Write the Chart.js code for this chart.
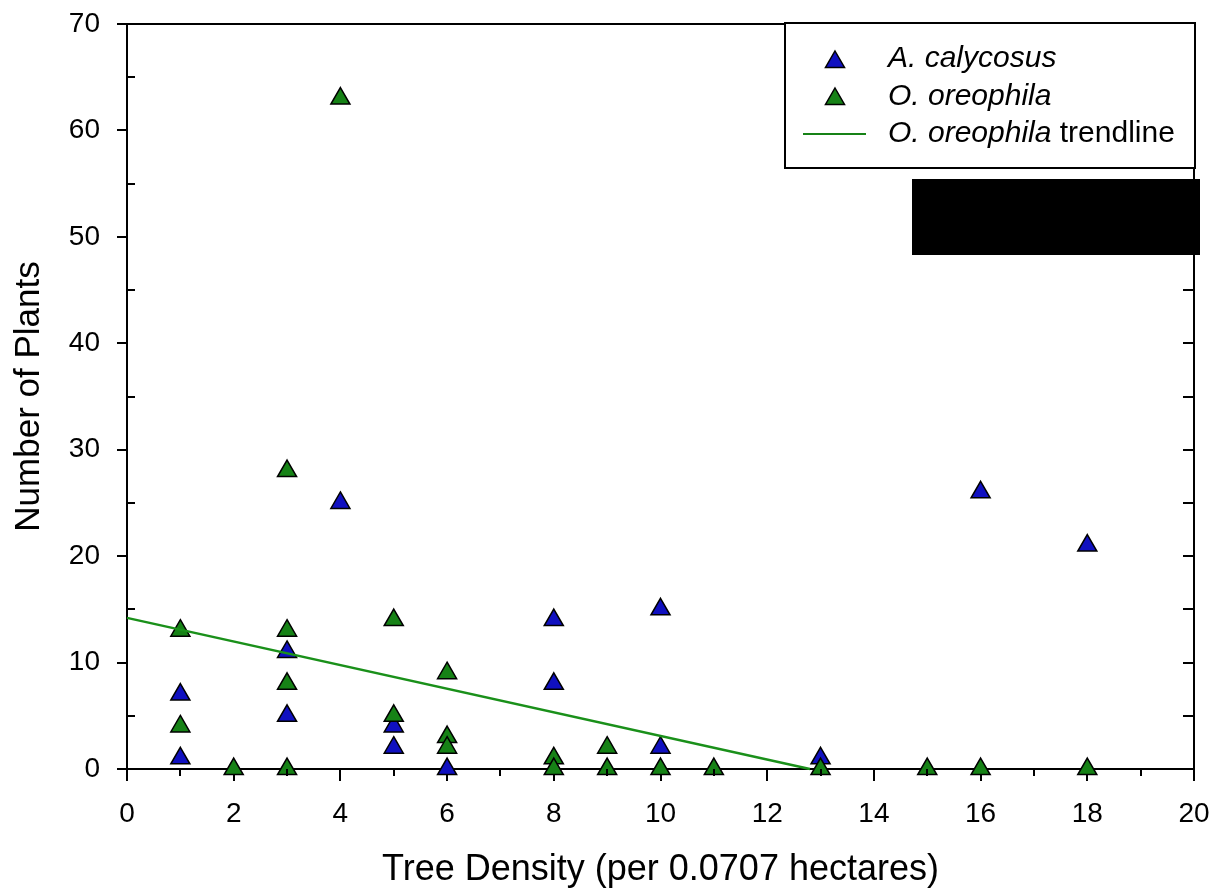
<!DOCTYPE html>
<html>
<head>
<meta charset="utf-8">
<script src="https://cdn.jsdelivr.net/npm/chart.js@4.4.0/dist/chart.umd.min.js"></script>
<style>
  body { margin: 0; background: #fff; }
  #wrap { position: relative; width: 1221px; height: 892px; }
</style>
</head>
<body>
<div id="wrap"><canvas id="Grafico"></canvas></div>
<script>
// A. calycosus
const blueX = [1, 1, 3, 3, 4, 5, 5, 6, 8, 8, 10, 10, 13, 16, 18];
const blueY = [1, 7, 11, 5, 25, 4, 2, 0, 14, 8, 15, 2, 1, 26, 21];
// O. oreophila
const greenX = [1, 1, 2, 3, 3, 3, 3, 4, 5, 5, 6, 6, 6, 8, 8, 9, 9, 10, 11, 13, 15, 16, 18];
const greenY = [13, 4, 0, 28, 13, 8, 0, 63, 14, 5, 9, 3, 2, 1, 0, 2, 0, 0, 0, 0, 0, 0, 0];
// trendline end points
const trendX = [0, 12.8];
const trendY = [14.2, 0];
// tick labels
const xTickLabels = [0, 2, 4, 6, 8, 10, 12, 14, 16, 18, 20];
const yTickLabels = [0, 10, 20, 30, 40, 50, 60, 70];

const FONT = "'Liberation Sans', Arial, sans-serif";
const BLUE = '#1010c0';
const GREEN = '#168216';

function toPoints(xs, ys) {
    return xs.map(function (x, i) { return { x: x, y: ys[i] }; });
}

function tri(ctx, cx, cy, r, fill) {
    ctx.beginPath();
    ctx.moveTo(cx, cy - r);
    ctx.lineTo(cx + r * 0.866, cy + r / 2);
    ctx.lineTo(cx - r * 0.866, cy + r / 2);
    ctx.closePath();
    ctx.fillStyle = fill;
    ctx.fill();
    ctx.lineWidth = 1.5;
    ctx.strokeStyle = '#000';
    ctx.stroke();
}

// frame, minor ticks, legend box and the black block
const extras = {
    id: 'extras',
    afterDraw: function (chart) {
        const ctx = chart.ctx;
        const a = chart.chartArea;
        const x = chart.scales.x;
        const y = chart.scales.y;
        ctx.save();
        ctx.strokeStyle = '#000';
        ctx.lineWidth = 2;
        ctx.beginPath();
        ctx.moveTo(a.left, a.top);
        ctx.lineTo(a.right, a.top);
        ctx.lineTo(a.right, a.bottom);
        ctx.stroke();
        ctx.beginPath();
        for (let v = 5; v < 70; v += 5) {
            const py = Math.round(y.getPixelForValue(v));
            ctx.moveTo(a.right, py);
            ctx.lineTo(a.right - 11, py);
            if (v % 10 !== 0) {
                ctx.moveTo(a.left, py);
                ctx.lineTo(a.left + 8, py);
            }
        }
        for (let v = 1; v < 20; v += 2) {
            const px = Math.round(x.getPixelForValue(v));
            ctx.moveTo(px, a.bottom);
            ctx.lineTo(px, a.bottom + 7);
        }
        ctx.stroke();

        // legend
        ctx.fillStyle = '#fff';
        ctx.fillRect(785, 23, 410, 145);
        ctx.strokeRect(785, 23, 410, 145);
        tri(ctx, 835, 62, 11, BLUE);
        tri(ctx, 835, 99, 11, GREEN);
        ctx.strokeStyle = GREEN;
        ctx.lineWidth = 2;
        ctx.beginPath();
        ctx.moveTo(803, 134);
        ctx.lineTo(866, 134);
        ctx.stroke();
        ctx.fillStyle = '#000';
        ctx.textBaseline = 'middle';
        ctx.textAlign = 'left';
        ctx.font = 'italic 30px ' + FONT;
        ctx.fillText('A. calycosus', 888, 59);
        ctx.fillText('O. oreophila', 888, 97);
        ctx.fillText('O. oreophila', 888, 134);
        const w = ctx.measureText('O. oreophila').width;
        ctx.font = '30px ' + FONT;
        ctx.fillText(' trendline', 888 + w, 134);

        ctx.fillStyle = '#000';
        ctx.fillRect(912, 179, 288, 76);
        ctx.restore();
    }
};

const data = {
    datasets: [{
        label: 'O. oreophila trendline',
        type: 'line',
        data: toPoints(trendX, trendY),
        borderColor: '#1a901a',
        borderWidth: 2.5,
        pointRadius: 0,
        fill: false,
        clip: false,
        order: 0
    }, {
        label: 'O. oreophila',
        data: toPoints(greenX, greenY),
        pointStyle: 'triangle',
        pointRadius: 11,
        pointHoverRadius: 11,
        backgroundColor: GREEN,
        borderColor: '#000',
        borderWidth: 1.5,
        clip: false,
        order: 1
    }, {
        label: 'A. calycosus',
        data: toPoints(blueX, blueY),
        pointStyle: 'triangle',
        pointRadius: 11,
        pointHoverRadius: 11,
        backgroundColor: BLUE,
        borderColor: '#000',
        borderWidth: 1.5,
        clip: false,
        order: 2
    }]
};

const config = {
    type: 'scatter',
    data,
    options: {
        responsive: true,
        maintainAspectRatio: false,
        animation: false,
        layout: { padding: { top: 24, right: 27, left: 0, bottom: 0 } },
        plugins: {
            legend: { display: false },
            tooltip: { enabled: false }
        },
        scales: {
            x: {
                type: 'linear',
                min: 0,
                max: 20,
                afterFit: function (s) {
                    s.height = 123;
                    s.paddingLeft = 0;
                    s.paddingRight = 0;
                },
                ticks: {
                    stepSize: 1,
                    autoSkip: false,
                    maxRotation: 0,
                    padding: 16,
                    color: '#000',
                    font: { family: FONT, size: 28 },
                    callback: function (v) { return xTickLabels.includes(v) ? String(v) : ''; }
                },
                grid: {
                    drawOnChartArea: false,
                    tickLength: 12,
                    lineWidth: 2,
                    color: function (c) { return c.tick && c.tick.value % 2 === 0 ? '#000' : 'rgba(0,0,0,0)'; }
                },
                border: { display: true, color: '#000', width: 2 },
                title: {
                    display: true,
                    text: 'Tree Density (per 0.0707 hectares)',
                    color: '#000',
                    font: { family: FONT, size: 36 },
                    padding: { top: 0, bottom: 0 }
                }
            },
            y: {
                type: 'linear',
                min: 0,
                max: 70,
                afterFit: function (s) {
                    s.width = 127;
                    s.paddingTop = 0;
                    s.paddingBottom = 0;
                },
                ticks: {
                    stepSize: 5,
                    autoSkip: false,
                    padding: 17,
                    color: '#000',
                    font: { family: FONT, size: 28 },
                    callback: function (v) { return yTickLabels.includes(v) ? String(v) : ''; }
                },
                grid: {
                    drawOnChartArea: false,
                    tickLength: 10,
                    lineWidth: 2,
                    color: function (c) { return c.tick && c.tick.value % 10 === 0 ? '#000' : 'rgba(0,0,0,0)'; }
                },
                border: { display: true, color: '#000', width: 2 },
                title: {
                    display: true,
                    text: 'Number of Plants',
                    color: '#000',
                    font: { family: FONT, size: 35 },
                    padding: { top: 8, bottom: 0 }
                }
            }
        }
    },
    plugins: [extras]
};

const Grafico = new Chart(document.getElementById('Grafico').getContext('2d'), config);
</script>
</body>
</html>
